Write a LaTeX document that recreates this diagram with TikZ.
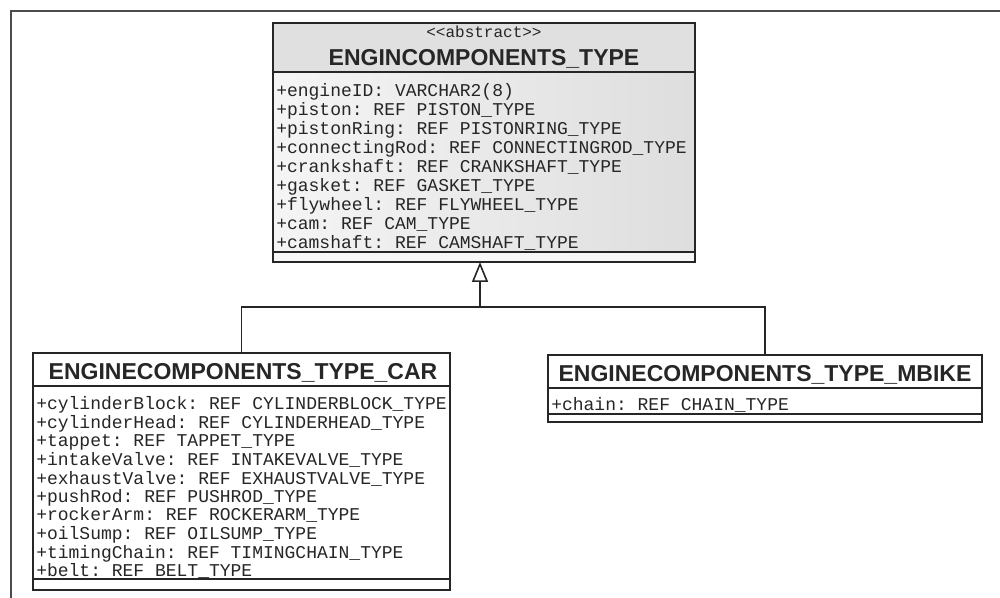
\documentclass[tikz,border=0pt]{standalone}
\usepackage{fontspec}
\setmainfont{Liberation Sans}
\setmonofont{Liberation Mono}
\usetikzlibrary{arrows.meta}
\begin{document}
\begin{tikzpicture}[x=0.75pt,y=-0.75pt,
  box/.style={draw=black!85, line width=1.5pt, anchor=north west, inner sep=0pt, outer sep=0pt},
  hdr/.style={font=\fontsize{17.25}{20}\selectfont\bfseries, text=black!85, inner sep=0pt, anchor=base},
  attr/.style={font=\ttfamily\fontsize{13.5}{16}\selectfont, anchor=base west, inner sep=0pt, text=black!85},
  stereo/.style={font=\ttfamily\fontsize{12}{14}\selectfont, inner sep=0pt, anchor=base, text=black!85},
  div/.style={draw=black!85, line width=1.2pt},
  link/.style={draw=black!85, line width=1.2pt},
  gen/.style={link, -{Triangle[open, length=15pt, width=12pt, line width=1.2pt]}},
]
\useasboundingbox (0,0) rectangle (1000,598);
% outer frame
\draw[black!70, line width=1.5pt] (11,598) -- (11,11) -- (1000,11);

% ---------- abstract class ----------
\fill[gray!24] (273,23) rectangle (695,72);
\shade[left color=gray!8, right color=gray!26] (273,72) rectangle (695,252);
\fill[gray!6] (273,252) rectangle (695,262);
\node[box, minimum width=316.5pt, minimum height=179.25pt] (top) at (273,23) {};
\draw[div] (273,72) -- (695,72);
\draw[div] (273,252) -- (695,252);
\node[stereo] (topst) at (484,38) {<<abstract>>};
\node[hdr] (topname) at (484,66) {ENGINCOMPONENTS\_TYPE};
\node[attr] (t1) at (276,97)  {+engineID: VARCHAR2(8)};
\node[attr] (t2) at (276,116) {+piston: REF PISTON\_TYPE};
\node[attr] (t3) at (276,135) {+pistonRing: REF PISTONRING\_TYPE};
\node[attr] (t4) at (276,154) {+connectingRod: REF CONNECTINGROD\_TYPE};
\node[attr] (t5) at (276,173) {+crankshaft: REF CRANKSHAFT\_TYPE};
\node[attr] (t6) at (276,192) {+gasket: REF GASKET\_TYPE};
\node[attr] (t7) at (276,211) {+flywheel: REF FLYWHEEL\_TYPE};
\node[attr] (t8) at (276,230) {+cam: REF CAM\_TYPE};
\node[attr] (t9) at (276,249) {+camshaft: REF CAMSHAFT\_TYPE};

% ---------- CAR class ----------
\fill[white] (33,353) rectangle (450,590);
\node[box, minimum width=312.75pt, minimum height=177.75pt] (car) at (33,353) {};
\draw[div] (33,386) -- (450,386);
\draw[div] (33,579) -- (450,579);
\node[hdr] (carname) at (243,380) {ENGINECOMPONENTS\_TYPE\_CAR};
\node[attr] (c1)  at (36,410)   {+cylinderBlock: REF CYLINDERBLOCK\_TYPE};
\node[attr] (c2)  at (36,428.5) {+cylinderHead: REF CYLINDERHEAD\_TYPE};
\node[attr] (c3)  at (36,447)   {+tappet: REF TAPPET\_TYPE};
\node[attr] (c4)  at (36,465.5) {+intakeValve: REF INTAKEVALVE\_TYPE};
\node[attr] (c5)  at (36,484)   {+exhaustValve: REF EXHAUSTVALVE\_TYPE};
\node[attr] (c6)  at (36,502.5) {+pushRod: REF PUSHROD\_TYPE};
\node[attr] (c7)  at (36,521)   {+rockerArm: REF ROCKERARM\_TYPE};
\node[attr] (c8)  at (36,539.5) {+oilSump: REF OILSUMP\_TYPE};
\node[attr] (c9)  at (36,558)   {+timingChain: REF TIMINGCHAIN\_TYPE};
\node[attr] (c10) at (36,576.5) {+belt: REF BELT\_TYPE};

% ---------- MBIKE class ----------
\node[box, minimum width=325.5pt, minimum height=50.25pt] (bike) at (548,355) {};
\draw[div] (548,388) -- (982,388);
\draw[div] (548,414) -- (982,414);
\node[hdr] (bikename) at (765,382) {ENGINECOMPONENTS\_TYPE\_MBIKE};
\node[attr] (b1) at (551,411) {+chain: REF CHAIN\_TYPE};

% ---------- generalization ----------
\coordinate (j) at (480,307);
\draw[link] (car.north) |- (j);
\draw[link] (bike.north) |- (j);
\draw[gen] (j) -- (j |- top.south);
\end{tikzpicture}
\end{document}
